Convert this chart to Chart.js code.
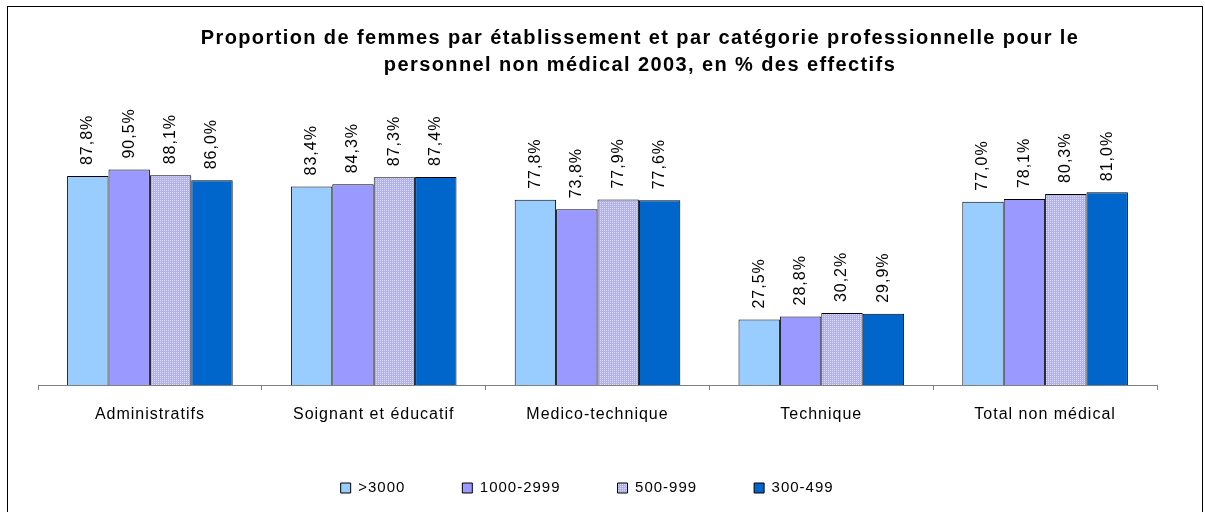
<!DOCTYPE html>
<html>
<head>
<meta charset="utf-8">
<script src="https://cdn.jsdelivr.net/npm/chart.js@4"></script>
<style>
  html, body { margin: 0; padding: 0; background: #fff; }
  #wrap { width: 1205px; height: 512px; }
</style>
</head>
<body>
<div id="wrap"><canvas id="chart" width="1205" height="512"></canvas></div>
<script>
// Data
const categories = ['Administratifs', 'Soignant et éducatif', 'Medico-technique', 'Technique', 'Total non médical'];
const seriesNames = ['>3000', '1000-2999', '500-999', '300-499'];
const over3000 = [87.8, 83.4, 77.8, 27.5, 77.0];
const from1000to2999 = [90.5, 84.3, 73.8, 28.8, 78.1];
const from500to999 = [88.1, 87.3, 77.9, 30.2, 80.3];
const from300to499 = [86.0, 87.4, 77.6, 29.9, 81.0];
const titleLines = [
    'Proportion de femmes par établissement et par catégorie professionnelle pour le',
    'personnel non médical 2003, en % des effectifs'
];

const FONT = "Arial, 'Liberation Sans', sans-serif";
const SPACING = '1px';

// dotted fill for the 500-999 series
function makePattern() {
    const c = document.createElement('canvas');
    c.width = 2; c.height = 2;
    const p = c.getContext('2d');
    p.fillStyle = '#b0b0f0';
    p.fillRect(0, 0, 2, 2);
    p.fillStyle = '#dedefa';
    p.fillRect(0, 0, 1, 1);
    return p.createPattern(c, 'repeat');
}

// letter spacing like the original rendering
const spacingPlugin = {
    id: 'spacing',
    beforeUpdate(chart) { chart.ctx.letterSpacing = SPACING; },
    beforeDraw(chart) { chart.ctx.letterSpacing = SPACING; },
    resize(chart) { chart.ctx.letterSpacing = SPACING; }
};

// frame, title and value labels
const decorPlugin = {
    id: 'decor',
    afterDraw(chart) {
        const ctx = chart.ctx;
        ctx.save();
        ctx.strokeStyle = '#000';
        ctx.lineWidth = 1;
        ctx.strokeRect(7.5, 6.5, 1195, 510);

        ctx.fillStyle = '#000';
        ctx.letterSpacing = '1.4px';
        ctx.font = "bold 20px " + FONT;
        ctx.textAlign = 'center';
        ctx.textBaseline = 'alphabetic';
        ctx.fillText(titleLines[0], 640, 44);
        ctx.fillText(titleLines[1], 640, 71);

        ctx.letterSpacing = SPACING;
        ctx.font = "16px " + FONT;
        ctx.textAlign = 'left';
        ctx.textBaseline = 'middle';
        chart.data.datasets.forEach((ds, i) => {
            chart.getDatasetMeta(i).data.forEach((bar, j) => {
                const txt = ds.data[j].toFixed(1).replace('.', ',') + '%';
                ctx.save();
                ctx.translate(bar.x, bar.y - 11);
                ctx.rotate(-Math.PI / 2);
                ctx.fillText(txt, 0, 0);
                ctx.restore();
            });
        });
        ctx.restore();
    }
};

const ctx = document.getElementById('chart').getContext('2d');
new Chart(ctx, {
    type: 'bar',
    data: {
        labels: categories,
        datasets: [
            { label: seriesNames[0], data: over3000, backgroundColor: '#99ccff' },
            { label: seriesNames[1], data: from1000to2999, backgroundColor: '#9999ff' },
            { label: seriesNames[2], data: from500to999, backgroundColor: makePattern() },
            { label: seriesNames[3], data: from300to499, backgroundColor: '#0066cc' }
        ].map(d => Object.assign(d, {
            borderColor: '#000',
            borderWidth: 1,
            categoryPercentage: 0.74,
            barPercentage: 1.0
        }))
    },
    options: {
        responsive: false,
        animation: false,
        layout: { padding: { left: 38, right: 48, top: 147, bottom: 6.5 } },
        plugins: {
            title: { display: false },
            tooltip: { enabled: false },
            legend: {
                position: 'bottom',
                labels: {
                    boxWidth: 10,
                    boxHeight: 10,
                    padding: 57,
                    color: '#000',
                    font: { family: FONT, size: 15 },
                    // the legend sits a little left of the plot centre in the original
                    generateLabels(chart) {
                        const items = Chart.defaults.plugins.legend.labels.generateLabels(chart);
                        items[items.length - 1].text += '\u00a0\u00a0\u00a0\u00a0';
                        return items;
                    }
                }
            }
        },
        scales: {
            x: {
                afterFit(scale) { scale.height = 38.5; },
                grid: {
                    offset: true,
                    drawOnChartArea: false,
                    drawTicks: true,
                    tickLength: 5,
                    color: '#808080'
                },
                border: { color: '#808080' },
                ticks: {
                    color: '#000',
                    padding: 15,
                    font: { family: FONT, size: 16 }
                }
            },
            y: {
                display: false,
                min: 0,
                max: 100
            }
        }
    },
    plugins: [spacingPlugin, decorPlugin]
});
</script>
</body>
</html>
